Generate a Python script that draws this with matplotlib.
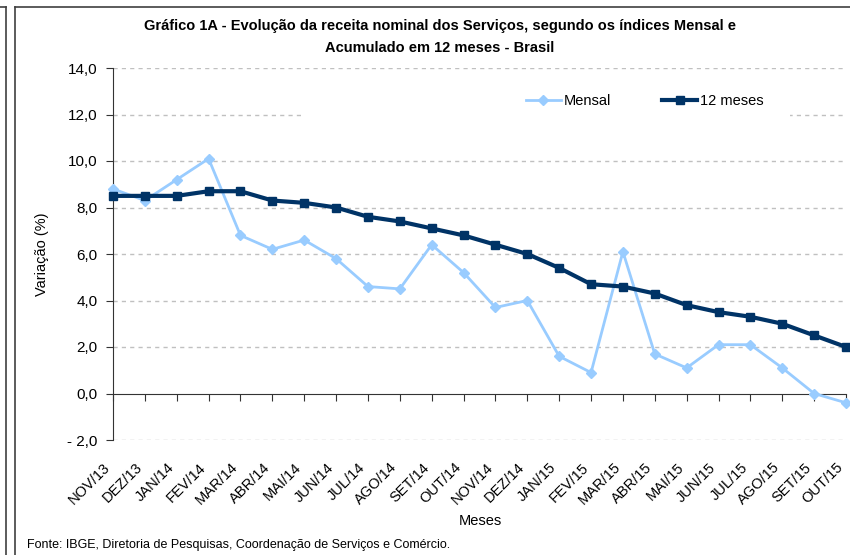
import matplotlib.pyplot as plt
from matplotlib.patches import Rectangle
from matplotlib.lines import Line2D

plt.rcParams['font.family'] = ['Liberation Sans', 'DejaVu Sans']

# Data
meses = ["NOV/13", "DEZ/13", "JAN/14", "FEV/14", "MAR/14", "ABR/14", "MAI/14", "JUN/14",
         "JUL/14", "AGO/14", "SET/14", "OUT/14", "NOV/14", "DEZ/14", "JAN/15", "FEV/15",
         "MAR/15", "ABR/15", "MAI/15", "JUN/15", "JUL/15", "AGO/15", "SET/15", "OUT/15"]
mensal = [8.8, 8.3, 9.2, 10.1, 6.8, 6.2, 6.6, 5.8, 4.6, 4.5, 6.4, 5.2,
          3.7, 4.0, 1.6, 0.9, 6.1, 1.7, 1.1, 2.1, 2.1, 1.1, 0.0, -0.4]
acum_12 = [8.5, 8.5, 8.5, 8.7, 8.7, 8.3, 8.2, 8.0, 7.6, 7.4, 7.1, 6.8,
           6.4, 6.0, 5.4, 4.7, 4.6, 4.3, 3.8, 3.5, 3.3, 3.0, 2.5, 2.0]
y_ticks = [-2, 0, 2, 4, 6, 8, 10, 12, 14]

fig = plt.figure(figsize=(8.5, 5.55), dpi=100)

# outer frames (clipped chart boxes)
fig.add_artist(Line2D([6 / 850, 6 / 850], [0, 1 - 7 / 555], color='#404040', lw=1.2))
fig.add_artist(Line2D([0, 6 / 850], [1 - 7 / 555, 1 - 7 / 555], color='#404040', lw=1.2))
fig.add_artist(Line2D([15 / 850, 15 / 850], [0, 1 - 7 / 555], color='#404040', lw=1.2))
fig.add_artist(Line2D([15 / 850, 1], [1 - 7 / 555, 1 - 7 / 555], color='#404040', lw=1.2))

ax = fig.add_axes([113 / 850, 1 - 440 / 555, 733 / 850, 372 / 555])

x = list(range(len(meses)))
ax.plot(x, mensal, color='#99CCFF', lw=2, marker='D', ms=5, label='Mensal',
        clip_on=False, zorder=3)
ax.plot(x, acum_12, color='#003366', lw=3, marker='s', ms=6, label='12 meses',
        clip_on=False, zorder=4)

ax.set_xlim(0, len(meses) - 1)
ax.set_ylim(-2, 14)

# grid
for v in y_ticks:
    if v != 0:
        ax.axhline(v, color='#C0C0C0', lw=1, ls=(0, (3, 3)), zorder=1)

ax.spines['top'].set_visible(False)
ax.spines['right'].set_visible(False)
ax.spines['bottom'].set_position(('data', 0))
ax.spines['left'].set_color('#333333')
ax.spines['bottom'].set_color('#333333')

ax.set_yticks(y_ticks)
ax.set_yticklabels([("- " if v < 0 else "") + f"{abs(v):.1f}".replace('.', ',') for v in y_ticks])
ax.tick_params(axis='y', direction='out', length=5, color='#333333', labelsize=11, pad=6)

ax.set_xticks(x)
ax.set_xticklabels(meses, rotation=45, ha='right')
ax.tick_params(axis='x', direction='out', length=5, color='#333333', labelsize=10.5, pad=43)

ax.set_ylabel("Variação (%)", fontsize=10.5, labelpad=13)
fig.text(480 / 850, 1 - 521 / 555, "Meses", ha='center', va='center', fontsize=10.5)

# white legend area covering the grid
ax.add_patch(Rectangle((0.262, 0.855), 0.662, 0.11, transform=ax.transAxes,
                       facecolor='white', edgecolor='none', zorder=2))
leg = ax.legend(loc='center left', bbox_to_anchor=((520 - 113) / 733, (440 - 101) / 372),
                ncol=2, frameon=False, fontsize=10.5, handlelength=2.4,
                handletextpad=0.2, columnspacing=3.5, borderaxespad=0)

fig.text(440 / 850, 1 - 26 / 555,
         "Gráfico 1A - Evolução da receita nominal dos Serviços, segundo os índices Mensal e",
         ha='center', va='center', fontsize=10.5, fontweight='bold')
fig.text(440 / 850, 1 - 48 / 555, "Acumulado em 12 meses - Brasil",
         ha='center', va='center', fontsize=10.5, fontweight='bold')

fig.text(27 / 850, 1 - 545 / 555,
         "Fonte: IBGE, Diretoria de Pesquisas, Coordenação de Serviços e Comércio.",
         ha='left', va='center', fontsize=9)

fig.savefig("out.png", dpi=100)
